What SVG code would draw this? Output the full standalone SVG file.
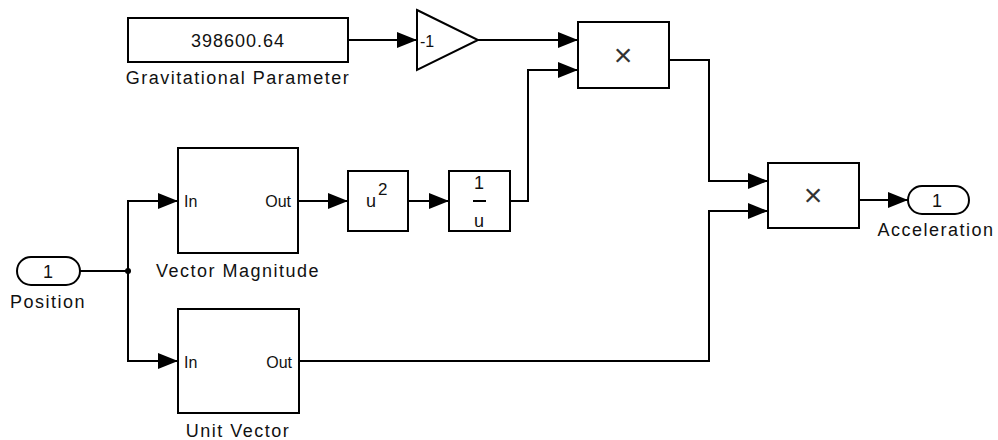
<svg xmlns="http://www.w3.org/2000/svg" width="998" height="440" viewBox="0 0 998 440">
<style>
.blk{fill:#fff;stroke:#000;stroke-width:2}
.ln{fill:none;stroke:#000;stroke-width:2}
text{font-family:"Liberation Sans",Arial,sans-serif;fill:#111}
.lbl{font-size:18px;letter-spacing:1.5px;text-anchor:middle}
.io{font-size:16px}
.num{font-size:18px;text-anchor:middle}
.mul{font-size:32px;text-anchor:middle;fill:#333}
</style>
<defs>
<marker id="arr" markerUnits="userSpaceOnUse" markerWidth="20" markerHeight="16" refX="20" refY="8" orient="auto">
<path d="M0,0 L20,8 L0,16 Z" fill="#000"/>
</marker>
</defs>
<rect width="998" height="440" fill="#fff"/>
<g id="connectors">
<path class="ln" d="M348,40 H417" marker-end="url(#arr)"/>
<path class="ln" d="M478,40 H578" marker-end="url(#arr)"/>
<path class="ln" d="M510,201 H528 V70 H578" marker-end="url(#arr)"/>
<path class="ln" d="M80,271 H128"/>
<path class="ln" d="M128,271 V201 H178" marker-end="url(#arr)"/>
<path class="ln" d="M128,271 V361 H178" marker-end="url(#arr)"/>
<circle cx="128" cy="271" r="3" fill="#000"/>
<path class="ln" d="M298,201 H348" marker-end="url(#arr)"/>
<path class="ln" d="M408,201 H449" marker-end="url(#arr)"/>
<path class="ln" d="M669,60 H709 V181 H768" marker-end="url(#arr)"/>
<path class="ln" d="M299,361 H709 V211 H768" marker-end="url(#arr)"/>
<path class="ln" d="M859,200 H908" marker-end="url(#arr)"/>
</g>
<g id="gravParam">
<rect class="blk" x="128" y="18" width="220" height="44"/>
<text class="num" x="238" y="47" font-size="19" letter-spacing="1">398600.64</text>
<text class="lbl" x="238" y="84">Gravitational Parameter</text>
</g>
<g id="gain">
<polygon class="blk" points="417,10 478,40 417,70"/>
<text x="420" y="47" font-size="16">-1</text>
</g>
<g id="product1">
<rect class="blk" x="578" y="22" width="91" height="66"/>
<text class="mul" x="623" y="66">×</text>
</g>
<g id="position">
<rect class="blk" x="17" y="257" width="63" height="28" rx="14"/>
<text class="num" x="48" y="278">1</text>
<text class="lbl" x="48" y="308">Position</text>
</g>
<g id="vectorMagnitude">
<rect class="blk" x="178" y="148" width="120" height="105"/>
<text class="io" x="184" y="207">In</text>
<text class="io" x="291" y="207" text-anchor="end">Out</text>
<text class="lbl" x="238" y="277">Vector Magnitude</text>
</g>
<g id="square">
<rect class="blk" x="348" y="171" width="60" height="60"/>
<text x="366" y="207" font-size="18">u</text>
<text x="378" y="195" font-size="17">2</text>
</g>
<g id="reciprocal">
<rect class="blk" x="449" y="171" width="61" height="60"/>
<text class="num" x="479" y="189" font-size="17">1</text>
<line x1="473" y1="201" x2="486" y2="201" stroke="#000" stroke-width="2"/>
<text class="num" x="479" y="227" font-size="17">u</text>
</g>
<g id="unitVector">
<rect class="blk" x="178" y="309" width="121" height="104"/>
<text class="io" x="184" y="368">In</text>
<text class="io" x="292" y="368" text-anchor="end">Out</text>
<text class="lbl" x="238" y="437">Unit Vector</text>
</g>
<g id="product2">
<rect class="blk" x="768" y="163" width="91" height="65"/>
<text class="mul" x="813" y="206">×</text>
</g>
<g id="acceleration">
<rect class="blk" x="908" y="186" width="61" height="28" rx="14"/>
<text class="num" x="937" y="207">1</text>
<text class="lbl" x="936" y="236">Acceleration</text>
</g>
</svg>
